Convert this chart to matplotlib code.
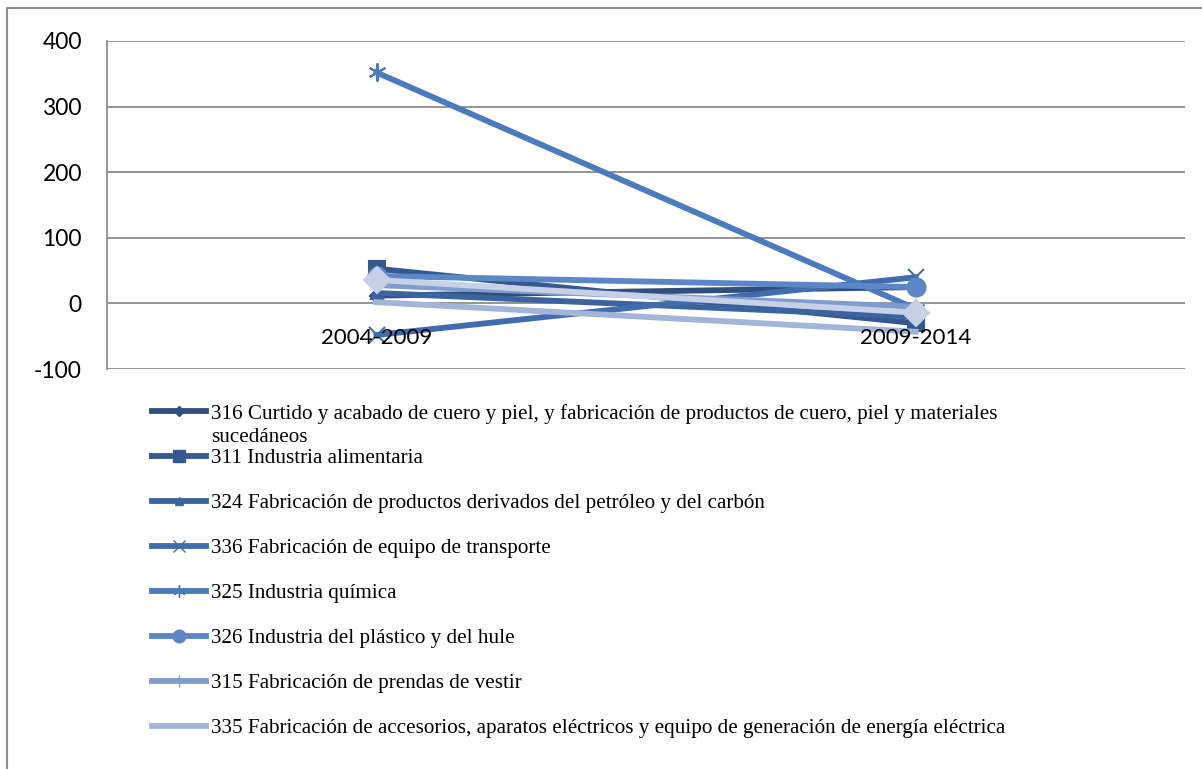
import matplotlib
matplotlib.use("Agg")
import matplotlib.pyplot as plt
from matplotlib.lines import Line2D

plt.rcParams['axes.unicode_minus'] = False

periodos = ['2004-2009', '2009-2014']

etiquetas = [
    '316 Curtido y acabado de cuero y piel, y fabricación de productos de cuero, piel y materiales\nsucedáneos',
    '311 Industria alimentaria',
    '324 Fabricación de productos derivados del petróleo y del carbón',
    '336 Fabricación de equipo de transporte',
    '325 Industria química',
    '326 Industria del plástico y del hule',
    '315 Fabricación de prendas de vestir',
    '335 Fabricación de accesorios, aparatos eléctricos y equipo de generación de energía eléctrica',
    '',
]
v316 = [12, 25]
v311 = [53, -30]
v324 = [16, -20]
v336 = [-48, 40]
v325 = [352, -8]
v326 = [42, 25]
v315 = [28, -5]
v335 = [2, -43]
v_otro = [36, -14]
valores = [v316, v311, v324, v336, v325, v326, v315, v335, v_otro]

colores = ['#2f4f7f', '#35588e', '#3b63a0', '#416cae', '#4a7bbf', '#5b87c6',
           '#7f9ccd', '#a2b4d9', '#c6d1e7']
marcadores = ['D', 's', '^', 'x', (6, 2, 0), 'o', '+', None, 'D']
tam = [7, 12, 9, 12, 13, 13, 12, 0, 13]

fig = plt.figure(figsize=(12.02, 7.69), dpi=100)
ax = fig.add_axes([0.089, 0.52, 0.897, 0.4267])

x = [0, 1]
for i in range(len(valores)):
    ax.plot(x, valores[i], color=colores[i], lw=4.2, marker=marcadores[i],
            markersize=tam[i], markeredgewidth=1.5, zorder=3 + i)

ax.set_xlim(-0.5, 1.5)
ax.set_ylim(-100, 400)
ax.set_yticks([-100, 0, 100, 200, 300, 400])
ax.set_xticks([])
for i, p in enumerate(periodos):
    ax.text(i, -52, p, ha='center', va='center', fontsize=16, family='Lato', zorder=20)
ax.tick_params(axis='y', length=0, pad=18, labelsize=16.5)
for t in ax.get_yticklabels():
    t.set_family('Lato')
ax.grid(axis='y', color='#8c8c8c', lw=1.3)
ax.set_axisbelow(True)
for s in ['top', 'right', 'bottom']:
    ax.spines[s].set_visible(False)
ax.spines['left'].set_color('#8c8c8c')
ax.spines['left'].set_linewidth(1.3)

# leyenda
y0 = 1 - 411 / 769
dy = 45 / 769
for i in range(8):
    y = y0 - i * dy
    fig.add_artist(Line2D([152 / 1202, 179 / 1202, 206 / 1202], [y, y, y],
                          color=colores[i], lw=4.2, marker=marcadores[i],
                          markersize=tam[i] * 0.7, markevery=[1],
                          transform=fig.transFigure))
    fig.text(211 / 1202, y + 7 / 769, etiquetas[i], ha='left', va='top',
             fontsize=15.2, family='Liberation Serif', linespacing=1.3)

# marco
fig.add_artist(Line2D([7 / 1202, 7 / 1202, 1], [0, 1 - 8 / 769, 1 - 8 / 769],
                      color='#8c8c8c', lw=1.5, transform=fig.transFigure))

fig.savefig('out.png', dpi=100)
